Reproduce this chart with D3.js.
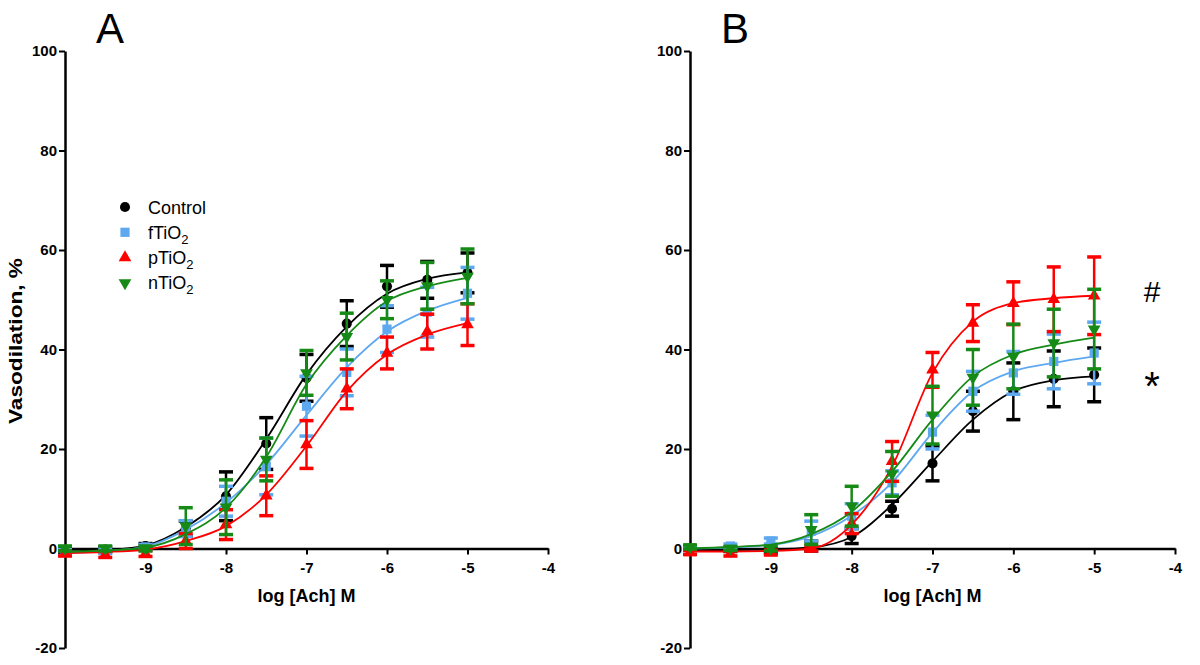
<!DOCTYPE html>
<html>
<head>
<meta charset="utf-8">
<script src="https://cdn.jsdelivr.net/npm/d3@7"></script>
<style>
  body { margin: 0; background: #fff; }
  svg { display: block; font-family: "Liberation Sans", Arial, sans-serif; }
  .axis .domain { stroke: #000; stroke-width: 2.5px; }
  .axis .tick line { stroke: #000; stroke-width: 2px; }
  .axis .tick text { font-size: 15px; font-weight: bold; fill: #000; }
</style>
</head>
<body>
<div id="chart"></div>
<script>
// log [Ach] M doses
var doses = [-10, -9.5, -9, -8.5, -8, -7.5, -7, -6.5, -6, -5.5, -5];
var groupNames = ["Control", "fTiO2", "pTiO2", "nTiO2"];
var yTicks = [-20, 0, 20, 40, 60, 80, 100];
var xTicks = [-9, -8, -7, -6, -5, -4];

// Panel A: means, SEM, fitted curve values (read at each dose)
var ctrlA    = [-0.5, -0.2, 0.5, 4.0, 10.5, 21.1, 34.3, 45.2, 52.7, 54.0, 55.4];
var ctrlErrA = [0.5, 0.5, 0.5, 1.5, 4.9, 5.2, 4.7, 4.6, 4.2, 3.7, 4.0];
var ctrlFitA = [-0.6, -0.3, 0.6, 4.3, 10.8, 22.0, 35.0, 44.6, 51.2, 54.2, 55.5];

var fA    = [-0.8, -0.5, 0.3, 4.0, 9.5, 16.5, 28.6, 35.4, 44.1, 47.5, 51.3];
var fErrA = [0.6, 0.5, 0.5, 1.6, 3.0, 5.7, 6.0, 4.7, 4.7, 5.0, 5.2];
var fFitA = [-0.9, -0.5, 0.4, 3.8, 9.2, 16.9, 26.8, 36.4, 43.6, 47.8, 50.4];

var pA    = [-1.0, -1.2, -1.0, 1.5, 4.8, 10.6, 20.9, 32.1, 39.3, 43.6, 45.0];
var pErrA = [0.5, 0.6, 0.6, 1.5, 3.0, 4.0, 4.8, 4.0, 3.2, 3.5, 4.2];
var pFitA = [-0.9, -0.7, -0.2, 1.5, 4.5, 10.8, 20.6, 31.6, 39.0, 43.0, 45.3];

var nA    = [0.0, 0.0, 0.0, 4.5, 8.3, 17.9, 35.3, 42.6, 50.0, 52.8, 54.7];
var nErrA = [0.5, 0.5, 0.5, 3.7, 5.5, 4.3, 4.5, 4.7, 3.8, 4.7, 5.5];
var nFitA = [-0.7, -0.4, 0.2, 2.9, 8.2, 18.4, 33.0, 42.8, 49.7, 52.7, 54.4];

// Panel B
var ctrlB    = [0.0, -0.2, -0.5, 0.5, 2.5, 8.0, 17.1, 27.6, 31.6, 34.1, 34.9];
var ctrlErrB = [0.3, 0.4, 0.5, 1.0, 1.5, 1.5, 3.5, 4.0, 5.7, 5.6, 5.4];
var ctrlFitB = [-0.3, -0.3, -0.2, 0.2, 2.3, 8.8, 17.5, 25.9, 31.6, 33.8, 34.6];

var fB    = [0.0, 0.5, 1.5, 3.5, 6.5, 13.2, 23.4, 31.6, 35.3, 37.6, 39.3];
var fErrB = [0.4, 0.4, 0.6, 2.0, 2.5, 2.4, 3.4, 4.0, 4.3, 5.5, 6.2];
var fFitB = [0.0, 0.2, 0.7, 2.5, 6.6, 13.3, 23.3, 31.6, 35.6, 37.3, 38.6];

var pB    = [-0.8, -1.0, -0.8, 0.0, 5.0, 17.5, 35.9, 45.3, 49.3, 50.1, 50.8];
var pErrB = [0.4, 0.5, 0.5, 0.5, 2.0, 4.0, 3.5, 3.7, 4.3, 6.5, 7.8];
var pFitB = [-0.6, -0.6, -0.5, 0.0, 4.8, 16.5, 35.3, 45.6, 49.3, 50.3, 50.8];

var nB    = [0.3, 0.0, 0.0, 3.8, 8.5, 15.0, 26.8, 34.4, 38.6, 41.3, 44.1];
var nErrB = [0.4, 0.4, 0.5, 3.0, 4.0, 4.5, 5.8, 5.6, 6.5, 6.8, 8.0];
var nFitB = [0.0, 0.3, 0.8, 2.9, 7.4, 15.5, 25.9, 34.6, 39.0, 41.0, 42.4];

// styles
var colors = ["#000000", "#5ea8f0", "#ff0000", "#168a16"];
var symbols = [d3.symbolCircle, d3.symbolSquare, d3.symbolTriangle, d3.symbolTriangle];
var symbolSizes = [80, 85, 70, 70];
var symbolRotate = [0, 0, 0, 180];

var svgWidth = 1200;
var svgHeight = 665;

var svg = d3.select("#chart")
  .append("svg")
  .attr("width", svgWidth)
  .attr("height", svgHeight);

var yScale = d3.scaleLinear()
  .domain([-20, 100])
  .range([648, 51]);

function drawPanel(label, left, right, means, errs, fits) {
  var xScale = d3.scaleLinear()
    .domain([-10, -4])
    .range([left, right]);

  var g = svg.append("g");

  // y axis
  g.append("g")
    .attr("class", "axis")
    .attr("transform", `translate(${left}, 0)`)
    .call(d3.axisLeft(yScale)
      .tickValues(yTicks)
      .tickSize(6)
      .tickSizeOuter(0)
      .tickPadding(2)
      .tickFormat(d => String(d)));

  // x axis sits at y = 0
  g.append("g")
    .attr("class", "axis")
    .attr("transform", `translate(0, ${yScale(0)})`)
    .call(d3.axisBottom(xScale)
      .tickValues(xTicks)
      .tickSize(6)
      .tickSizeOuter(0)
      .tickPadding(8)
      .tickFormat(d => String(d)));

  // x axis title
  g.append("text")
    .attr("x", (left + right) / 2)
    .attr("y", 602)
    .attr("text-anchor", "middle")
    .attr("font-size", "18px")
    .attr("font-weight", "bold")
    .text("log [Ach] M");

  // panel letter
  g.append("text")
    .attr("x", left + 45)
    .attr("y", 43)
    .attr("text-anchor", "middle")
    .attr("font-size", "42px")
    .text(label);

  var line = d3.line()
    .x((d, i) => xScale(doses[i]))
    .y(d => yScale(d))
    .curve(d3.curveMonotoneX);

  means.forEach((series, s) => {
    var sg = g.append("g");

    // fitted curve
    sg.append("path")
      .datum(fits[s])
      .attr("d", line)
      .attr("fill", "none")
      .attr("stroke", colors[s])
      .attr("stroke-width", 1.8);

    // error bars
    var bars = sg.selectAll(".bar")
      .data(series)
      .enter()
      .append("g")
      .attr("class", "bar");

    bars.append("line")
      .attr("x1", (d, i) => xScale(doses[i]))
      .attr("x2", (d, i) => xScale(doses[i]))
      .attr("y1", (d, i) => yScale(d - errs[s][i]))
      .attr("y2", (d, i) => yScale(d + errs[s][i]))
      .attr("stroke", colors[s])
      .attr("stroke-width", 2.5);

    [1, -1].forEach(sign => {
      bars.append("line")
        .attr("x1", (d, i) => xScale(doses[i]) - 7)
        .attr("x2", (d, i) => xScale(doses[i]) + 7)
        .attr("y1", (d, i) => yScale(d + sign * errs[s][i]))
        .attr("y2", (d, i) => yScale(d + sign * errs[s][i]))
        .attr("stroke", colors[s])
        .attr("stroke-width", 3.5);
    });

    // markers
    sg.selectAll(".pt")
      .data(series)
      .enter()
      .append("path")
      .attr("class", "pt")
      .attr("d", d3.symbol().type(symbols[s]).size(symbolSizes[s]))
      .attr("transform", (d, i) => `translate(${xScale(doses[i])}, ${yScale(d)}) rotate(${symbolRotate[s]})`)
      .attr("fill", colors[s]);
  });

  return g;
}

drawPanel("A", 65, 548,
  [ctrlA, fA, pA, nA],
  [ctrlErrA, fErrA, pErrA, nErrA],
  [ctrlFitA, fFitA, pFitA, nFitA]);

var panelB = drawPanel("B", 690, 1175,
  [ctrlB, fB, pB, nB],
  [ctrlErrB, fErrB, pErrB, nErrB],
  [ctrlFitB, fFitB, pFitB, nFitB]);

// y axis title, panel A only
svg.append("text")
  .attr("transform", "translate(22, 341) rotate(-90)")
  .attr("text-anchor", "middle")
  .attr("font-size", "18px")
  .attr("font-weight", "bold")
  .attr("textLength", 166)
  .attr("lengthAdjust", "spacingAndGlyphs")
  .text("Vasodilation, %");

// legend
var legend = svg.append("g")
  .attr("transform", "translate(125, 207)");

groupNames.forEach((name, s) => {
  var row = legend.append("g")
    .attr("transform", `translate(0, ${s * 25.3})`);

  row.append("path")
    .attr("d", d3.symbol().type(symbols[s]).size(symbolSizes[s]))
    .attr("transform", `rotate(${symbolRotate[s]})`)
    .attr("fill", colors[s]);

  var t = row.append("text")
    .attr("x", 23)
    .attr("y", 6.5)
    .attr("font-size", "18px");

  if (name.endsWith("2")) {
    t.append("tspan").text(name.slice(0, -1));
    t.append("tspan")
      .attr("dy", 5)
      .attr("font-size", "13px")
      .text("2");
  } else {
    t.text(name);
  }
});

// significance marks on panel B
svg.append("text")
  .attr("x", 1152)
  .attr("y", 302)
  .attr("text-anchor", "middle")
  .attr("font-size", "30px")
  .text("#");

svg.append("text")
  .attr("x", 1152)
  .attr("y", 400)
  .attr("text-anchor", "middle")
  .attr("font-size", "40px")
  .text("*");
</script>
</body>
</html>
